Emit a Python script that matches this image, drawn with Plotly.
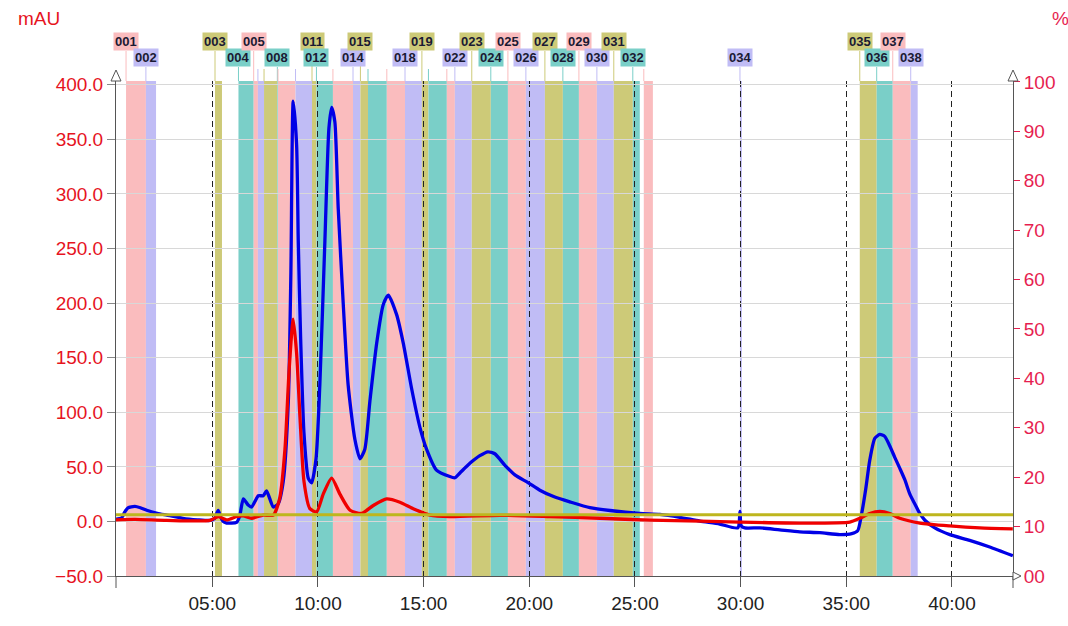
import plotly.graph_objects as go

# ---------------- data ----------------
x_tickvals = [5, 10, 15, 20, 25, 30, 35, 40]
x_ticktext = ["05:00", "10:00", "15:00", "20:00", "25:00", "30:00", "35:00", "40:00"]
y_tickvals = [-50, 0, 50, 100, 150, 200, 250, 300, 350, 400]
y2_tickvals = [0, 10, 20, 30, 40, 50, 60, 70, 80, 90, 100]
y2_ticktext = ["00", "10", "20", "30", "40", "50", "60", "70", "80", "90", "100"]

# UV 1 (blue), minutes / mAU
uv1_time = [0.44, 0.70, 0.87, 1.01, 1.34, 1.60, 1.90, 2.40, 2.84, 3.61, 4.30, 4.89, 5.10, 5.28, 5.40,
            5.51, 5.68, 6.15, 6.30, 6.47, 6.70, 6.86, 7.18, 7.41, 7.57, 7.89, 8.12, 8.36, 8.60, 8.72,
            8.83, 8.99, 9.07, 9.18, 9.34, 9.54, 9.70, 9.91, 10.09, 10.33, 10.52, 10.65, 10.80, 10.96,
            11.20, 11.43, 11.75, 11.99, 12.22, 12.46, 12.78, 13.09, 13.33, 13.72, 14.04, 14.43, 14.82,
            15.14, 15.61, 16.24, 16.48, 16.72, 17.19, 17.66, 18.04, 18.37, 18.85, 19.32, 19.94, 20.50,
            21.21, 21.92, 22.87, 23.82, 25.23, 26.18, 27.12, 28.07, 29.01, 29.87, 29.97, 30.03, 30.20,
            30.91, 31.85, 32.80, 33.75, 34.69, 35.26, 35.54, 35.73, 35.92, 36.11, 36.35, 36.59, 36.82,
            37.06, 37.30, 37.53, 37.77, 38.01, 38.24, 38.48, 38.72, 39.19, 39.90, 40.84, 41.79, 42.88]
uv1_mau = [2.0, 3.0, 9.0, 12.5, 13.8, 12.5, 10.2, 7.5, 5.8, 2.9, 1.5, 0.9, 2.5, 10.2, 4.0,
           0.0, -1.5, -0.9, 5.0, 20.6, 15.0, 13.2, 23.5, 23.5, 27.9, 13.2, 16.1, 36.7, 110.3, 227.9,
           385.0, 345.5, 257.3, 169.1, 80.8, 39.7, 35.3, 57.4, 125.0, 257.3, 360.3, 379.4, 366.2, 286.8,
           198.5, 125.0, 75.0, 57.4, 66.2, 110.3, 163.2, 198.5, 207.4, 189.7, 163.2, 122.0, 86.7,
           66.2, 47.0, 41.1, 40.0, 44.4, 53.2, 60.2, 63.8, 62.0, 51.4, 42.6, 35.6, 28.6,
           22.3, 17.9, 12.6, 10.0, 7.3, 6.4, 3.8, 0.3, -2.4, -5.9, 9.1, -4.0, -5.9,
           -5.9, -7.7, -9.5, -10.3, -12.1, -11.2, -8.6, 7.3, 29.4, 55.8, 76.1, 79.7, 77.9,
           69.1, 58.5, 48.8, 38.2, 25.0, 16.1, 7.3, 1.1, -5.9, -12.1, -17.4, -23.5, -31.5]

# UV 2 (red), minutes / mAU
uv2_time = [0.44, 1.34, 2.84, 4.89, 5.28, 5.68, 6.15, 6.47, 6.86, 7.41, 7.89, 8.20, 8.44, 8.64, 8.83,
            8.99, 9.15, 9.34, 9.62, 9.94, 10.25, 10.65, 11.04, 11.52, 12.07, 12.62, 13.25, 13.88, 14.51,
            15.30, 16.24, 18.61, 20.98, 23.34, 25.71, 28.07, 29.96, 32.80, 35.17, 35.64, 36.11, 36.59,
            37.06, 37.53, 38.48, 39.90, 41.32, 42.88]
uv2_mau = [1.4, 1.8, 0.9, 0.9, 4.4, 1.4, 4.4, 5.0, 2.9, 5.8, 5.8, 22.1, 66.2, 139.7, 185.3,
           154.4, 95.6, 36.7, 11.7, 8.8, 25.0, 39.7, 25.0, 10.2, 7.3, 14.6, 20.6, 17.6, 11.7,
           5.8, 4.4, 5.6, 4.4, 2.9, 1.1, 0.3, -0.6, -1.5, -0.6, 2.9, 7.3, 9.1,
           7.3, 2.9, -1.5, -4.1, -5.9, -6.8]

# Concentration (olive), minutes / %
conc_time = [0.44, 42.89]
conc_pct = [12.4, 12.4]

# Fractions
frac_names = ["001", "002", "003", "004", "005", "006", "007", "008", "009", "010",
              "011", "012", "013", "014", "015", "016", "017", "018", "019", "020",
              "021", "022", "023", "024", "025", "026", "027", "028", "029", "030",
              "031", "032", "033", "034", "035", "036", "037", "038"]
frac_start = [0.92, 1.86, 5.13, 6.24, 6.96, 7.16, 7.45, 8.08, 8.11, 8.94,
              9.72, 9.93, 10.71, 11.66, 12.01, 12.37, 13.26, 14.12, 14.92, 15.23,
              16.10, 16.48, 17.28, 18.18, 18.99, 19.84, 20.74, 21.59, 22.35, 23.20,
              24.00, 24.90, 25.42, 29.97, 35.64, 36.44, 37.20, 38.05]
frac_end = [1.86, 2.34, 5.46, 6.96, 7.16, 7.45, 8.08, 8.11, 8.94, 9.72,
            9.93, 10.71, 11.66, 12.01, 12.37, 13.26, 14.12, 14.92, 15.23, 16.10,
            16.48, 17.28, 18.18, 18.99, 19.84, 20.74, 21.59, 22.35, 23.20, 24.00,
            24.90, 25.23, 25.85, 30.06, 36.44, 37.20, 38.05, 38.38]
frac_labeled = ["001", "002", "003", "004", "005", "008", "011", "012", "014", "015",
                "018", "019", "022", "023", "024", "025", "026", "027", "028", "029",
                "030", "031", "032", "034", "035", "036", "037", "038"]

# ---------------- styles ----------------
FONT = "Liberation Sans, Arial, sans-serif"
band_colors = ["rgb(250,188,190)", "rgb(192,188,245)", "rgb(205,202,120)", "rgb(122,207,200)"]
LEFT_RED = "rgb(230,20,30)"
RIGHT_RED = "rgb(230,30,80)"
AXIS = "#555555"

fig = go.Figure()

fig.add_trace(go.Scatter(x=conc_time, y=conc_pct, yaxis="y2", mode="lines",
                         line=dict(color="rgb(190,182,30)", width=3), hoverinfo="skip"))
fig.add_trace(go.Scatter(x=uv1_time, y=uv1_mau, mode="lines",
                         line=dict(color="rgb(0,0,230)", width=3.3, shape="spline", smoothing=0.6)))
fig.add_trace(go.Scatter(x=uv2_time, y=uv2_mau, mode="lines",
                         line=dict(color="rgb(240,0,0)", width=3.3, shape="spline", smoothing=0.6)))

shapes = []
annotations = []
for i, name in enumerate(frac_names):
    col = band_colors[i % 4]
    shapes.append(dict(type="rect", xref="x", yref="paper", x0=frac_start[i], x1=frac_end[i],
                       y0=0, y1=1, fillcolor=col, line=dict(width=0), layer="below"))
    odd = (int(name) % 2 == 1)
    if name in frac_labeled:
        h = 30 if odd else 14
        annotations.append(dict(x=frac_start[i], xref="x", y=1, yref="paper", yanchor="bottom",
                                yshift=h, text="<b>%s</b>" % name, showarrow=False,
                                font=dict(family=FONT, size=13, color="#1a1a33"),
                                bgcolor=col, borderpad=1))
    else:
        h = 12
    shapes.append(dict(type="line", xref="x", yref="paper", ysizemode="pixel", yanchor=1,
                       x0=frac_start[i], x1=frac_start[i], y0=0, y1=h,
                       line=dict(color=col, width=1)))

# axis arrows and extensions
tri_up = "M -5 0 L 5 0 L 0 11 Z"
for xa in (0, 1):
    shapes.append(dict(type="path", xref="paper", yref="paper", xsizemode="pixel", ysizemode="pixel",
                       xanchor=xa, yanchor=1, path=tri_up, fillcolor="white",
                       line=dict(color=AXIS, width=1)))
    shapes.append(dict(type="line", xref="paper", yref="paper", ysizemode="pixel", yanchor=0,
                       x0=xa, x1=xa, y0=0, y1=-12, line=dict(color=AXIS, width=1)))
shapes.append(dict(type="path", xref="paper", yref="paper", xsizemode="pixel", ysizemode="pixel",
                   xanchor=1, yanchor=0, path="M 0 -4 L 0 4 L 8 0 Z", fillcolor="white",
                   line=dict(color=AXIS, width=1)))

annotations.append(dict(text="mAU", xref="paper", yref="paper", x=0, y=1, xanchor="right",
                        yanchor="middle", xshift=-54, yshift=63, showarrow=False,
                        font=dict(family=FONT, size=19, color=LEFT_RED)))
annotations.append(dict(text="%", xref="paper", yref="paper", x=1, y=1, xanchor="left",
                        yanchor="middle", xshift=37, yshift=63, showarrow=False,
                        font=dict(family=FONT, size=19, color=RIGHT_RED)))

fig.update_layout(
    width=1068, height=626,
    margin=dict(l=116, r=55, t=81, b=31),
    paper_bgcolor="white", plot_bgcolor="white",
    showlegend=False,
    font=dict(family=FONT),
    shapes=shapes, annotations=annotations,
    xaxis=dict(range=[0.445, 42.89], tickvals=x_tickvals, ticktext=x_ticktext,
               showgrid=True, gridcolor="#222222", griddash="6px,4px", gridwidth=1,
               showline=True, linecolor=AXIS, linewidth=1, ticks="outside", ticklen=10,
               tickcolor=AXIS, tickfont=dict(family=FONT, size=19, color="#222222"),
               zeroline=False),
    yaxis=dict(range=[-50, 403.5], tickvals=y_tickvals, tickformat=".1f",
               showgrid=True, gridcolor="#d8d8d8", gridwidth=1,
               showline=True, linecolor=AXIS, linewidth=1, ticks="outside", ticklen=8,
               tickcolor="#888888", tickfont=dict(family=FONT, size=19, color=LEFT_RED),
               zeroline=False),
    yaxis2=dict(range=[0, 100.2], tickvals=y2_tickvals, ticktext=y2_ticktext,
                overlaying="y", side="right", showgrid=False,
                showline=True, linecolor=AXIS, linewidth=1, ticks="outside", ticklen=6,
                tickcolor=RIGHT_RED, tickfont=dict(family=FONT, size=19, color=RIGHT_RED),
                zeroline=False),
)

fig.write_html("out.html", config={"displayModeBar": False},
               post_script="document.body.style.margin='0';")
